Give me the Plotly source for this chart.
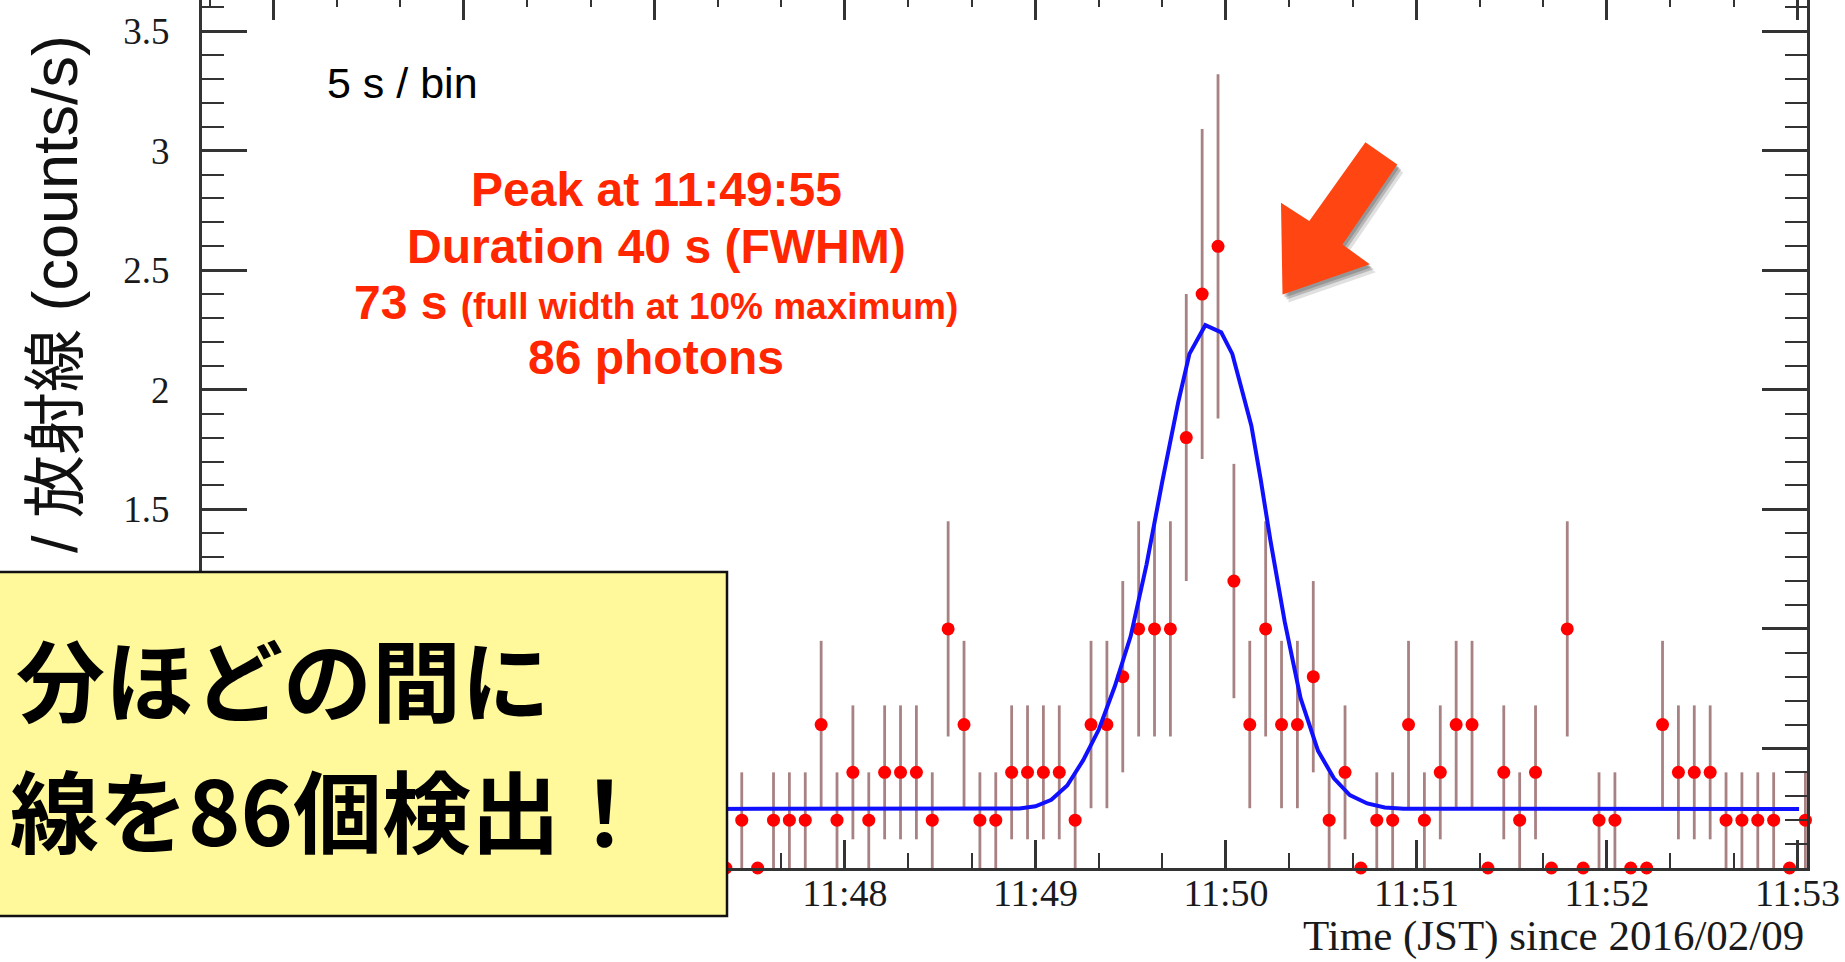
import plotly.graph_objects as go
import pandas as pd

# ---------------- data ----------------
bin_start = "2016-02-09 11:47:22.5"   # centre of first visible 5-s bin
bin_width_s = 5

rate = [0, 0.2, 0, 0.2, 0.2, 0.2, 0.6, 0.2, 0.4, 0.2,
        0.4, 0.4, 0.4, 0.2, 1.0, 0.6, 0.2, 0.2, 0.4, 0.4,
        0.4, 0.4, 0.2, 0.6, 0.6, 0.8, 1.0, 1.0, 1.0, 1.8,
        2.4, 2.6, 1.2, 0.6, 1.0, 0.6, 0.6, 0.8, 0.2, 0.4,
        0, 0.2, 0.2, 0.6, 0.2, 0.4, 0.6, 0.6, 0, 0.4,
        0.2, 0.4, 0, 1.0, 0, 0.2, 0.2, 0, 0, 0.6,
        0.4, 0.4, 0.4, 0.2, 0.2, 0.2, 0.2, 0, 0.2]

rate_err = [0, 0.2, 0, 0.2, 0.2, 0.2, 0.35, 0.2, 0.28, 0.2,
            0.28, 0.28, 0.28, 0.2, 0.45, 0.35, 0.2, 0.2, 0.28, 0.28,
            0.28, 0.28, 0.2, 0.35, 0.35, 0.4, 0.45, 0.45, 0.45, 0.6,
            0.69, 0.72, 0.49, 0.35, 0.45, 0.35, 0.35, 0.4, 0.2, 0.28,
            0, 0.2, 0.2, 0.35, 0.2, 0.28, 0.35, 0.35, 0, 0.28,
            0.2, 0.28, 0, 0.45, 0, 0.2, 0.2, 0, 0, 0.35,
            0.28, 0.28, 0.28, 0.2, 0.2, 0.2, 0.2, 0, 0.2]

# fitted curve: seconds after 11:48:00 and value
fit_t = [-45, 55, 60, 65, 70, 75, 80, 85, 90, 95, 100, 105, 108.5, 113.5,
         118.5, 122, 125, 128, 131, 134, 138.5, 143.5, 149, 154, 159,
         164.5, 170, 176, 300.5]
fit_v = [0.247, 0.249, 0.258, 0.285, 0.345, 0.45, 0.58, 0.76, 0.97, 1.27,
         1.62, 1.95, 2.15, 2.27, 2.24, 2.15, 2.0, 1.85, 1.62, 1.37, 1.03,
         0.71, 0.49, 0.375, 0.305, 0.27, 0.253, 0.248, 0.247]

y_tickvals = [0, 0.5, 1, 1.5, 2, 2.5, 3, 3.5]
y_ticktext = ["", "", "", "1.5", "2", "2.5", "3", "3.5"]  # lower ones sit under the box

x_range = ["2016-02-09 11:44:37.5", "2016-02-09 11:53:03"]
fit_ref = pd.Timestamp("2016-02-09 11:48:00")

# ---------------- derived positions ----------------
bin_x = pd.date_range(pd.Timestamp(bin_start), periods=len(rate),
                      freq=pd.Timedelta(seconds=bin_width_s))
fit_x = [fit_ref + pd.Timedelta(seconds=s) for s in fit_t]

# ---------------- figure geometry (pixels) ----------------
W, H = 1845, 962
L, R, T, B = 202, 38, 0, 94
PW, PH = W - L - R, H - T - B


def px(x):
    return (x - L) / PW


def py(y):
    return (H - B - y) / PH


serif = "Liberation Serif, Times New Roman, serif"
sans = "Liberation Sans, Arial, Helvetica, sans-serif"
cjk = "Liberation Sans, Noto Sans CJK JP, sans-serif"

fig = go.Figure()

fig.add_trace(go.Scatter(
    x=bin_x, y=rate, mode="markers",
    marker=dict(color="#FF0000", size=13, line=dict(width=0)),
    error_y=dict(type="data", array=rate_err, visible=True,
                 color="#A88282", thickness=2.8, width=0),
    cliponaxis=False, showlegend=False, hoverinfo="skip"))

fig.add_trace(go.Scatter(
    x=fit_x, y=fit_v, mode="lines",
    line=dict(color="#1010FF", width=4),
    showlegend=False, hoverinfo="skip"))

# empty trace to bring the top (mirror) axis to life
fig.add_trace(go.Scatter(x=[], y=[], xaxis="x2", showlegend=False))

tick_col = "#333333"

fig.update_layout(
    width=W, height=H,
    margin=dict(l=L, r=R, t=T, b=B, autoexpand=False),
    paper_bgcolor="white", plot_bgcolor="white",
    xaxis=dict(
        type="date", range=x_range, tickformat="%H:%M",
        tick0="2016-02-09 11:48:00", dtick=60000,
        ticks="inside", ticklen=28, tickwidth=2.5, tickcolor=tick_col,
        minor=dict(ticks="inside", dtick=20000, tick0="2016-02-09 11:48:00",
                   ticklen=15, tickwidth=2, tickcolor=tick_col, showgrid=False),
        showline=True, linewidth=3, linecolor=tick_col,
        showgrid=False, zeroline=False, automargin=False,
        tickfont=dict(family=serif, size=38, color="#1a1a1a"),
        ticklabelstandoff=-11,
    ),
    xaxis2=dict(
        type="date", overlaying="x", matches="x", side="top", anchor="y",
        tick0="2016-02-09 11:48:00", dtick=60000,
        ticks="inside", ticklen=20, tickwidth=2.5, tickcolor=tick_col,
        minor=dict(ticks="inside", dtick=20000, tick0="2016-02-09 11:48:00",
                   ticklen=7, tickwidth=2, tickcolor=tick_col, showgrid=False),
        showline=False, showgrid=False, zeroline=False, showticklabels=False,
        automargin=False,
    ),
    yaxis=dict(
        range=[0, 3.63], tickvals=y_tickvals, ticktext=y_ticktext,
        ticks="inside", ticklen=45, tickwidth=2.5, tickcolor=tick_col,
        minor=dict(ticks="inside", dtick=0.1, tick0=0, ticklen=22,
                   tickwidth=2, tickcolor=tick_col, showgrid=False),
        showline=True, linewidth=3, linecolor=tick_col, mirror="ticks",
        showgrid=False, zeroline=False, automargin=False,
        tickfont=dict(family=serif, size=37, color="#1a1a1a"),
        ticklabelstandoff=22,
    ),
)

# ---------------- arrow (with soft shadow) ----------------
arrow_px = [(1282.5, 294.5), (1281, 202.7), (1309.3, 220.9), (1365.4, 142.3),
            (1397.3, 164.4), (1342.5, 244.6), (1369.8, 264.2)]


def path_of(pts, dx=0, dy=0):
    s = "M " + " L ".join(f"{px(x + dx):.5f},{py(y + dy):.5f}" for x, y in pts)
    return s + " Z"


for (dx, dy, op) in [(6, 8, 0.12), (4, 5, 0.18), (2, 3, 0.18)]:
    fig.add_shape(type="path", xref="paper", yref="paper",
                  path=path_of(arrow_px, dx, dy),
                  fillcolor=f"rgba(0,0,0,{op})", line=dict(width=0), layer="above")
fig.add_shape(type="path", xref="paper", yref="paper", path=path_of(arrow_px),
              fillcolor="#FF4512", line=dict(width=0), layer="above")

# ---------------- yellow callout box ----------------
fig.add_shape(type="rect", xref="paper", yref="paper",
              x0=px(-20), x1=px(727), y0=py(916), y1=py(572),
              fillcolor="#FFF99C", line=dict(color="#111111", width=2.5),
              layer="above")

ann = []
ann.append(dict(text="<b>分ほどの間に</b>", x=px(14), y=py(676), xanchor="left",
                yanchor="middle", font=dict(family="Noto Sans CJK JP", size=89,
                                            color="#000000")))
ann.append(dict(text="<b>線を86個検出！</b>", x=px(8), y=py(807), xanchor="left",
                yanchor="middle", font=dict(family="Noto Sans CJK JP", size=89,
                                            color="#000000")))

# y-axis title (partly hidden by the box in the original)
ann.append(dict(text="/ 放射線 (counts/s)", textangle=-90, x=px(55), y=py(33),
                xanchor="center", yanchor="top",
                font=dict(family=cjk, size=63, color="#111111")))

# x-axis title
ann.append(dict(text="Time (JST) since 2016/02/09", x=px(1806), y=py(936),
                xanchor="right", yanchor="middle",
                font=dict(family=serif, size=43, color="#1a1a1a")))

# bin-size label
ann.append(dict(text="5 s / bin", x=px(325), y=py(83), xanchor="left",
                yanchor="middle", font=dict(family=sans, size=43, color="#000000")))

red = "#FF2600"
ann.append(dict(text="<b>Peak at 11:49:55</b>", x=px(656), y=py(189),
                xanchor="center", yanchor="middle",
                font=dict(family=sans, size=48, color=red)))
ann.append(dict(text="<b>Duration 40 s (FWHM)</b>", x=px(656), y=py(246),
                xanchor="center", yanchor="middle",
                font=dict(family=sans, size=48, color=red)))
ann.append(dict(text="<b>73 s <span style='font-size:37px'>(full width at 10% maximum)</span></b>",
                x=px(656), y=py(302), xanchor="center", yanchor="middle",
                font=dict(family=sans, size=48, color=red)))
ann.append(dict(text="<b>86 photons</b>", x=px(656), y=py(357),
                xanchor="center", yanchor="middle",
                font=dict(family=sans, size=48, color=red)))

for a in ann:
    a.update(xref="paper", yref="paper", showarrow=False)
fig.update_layout(annotations=ann)

fig.write_html("out.html", config={"displayModeBar": False},
               post_script="document.body.style.margin='0';document.body.style.overflow='hidden';")
